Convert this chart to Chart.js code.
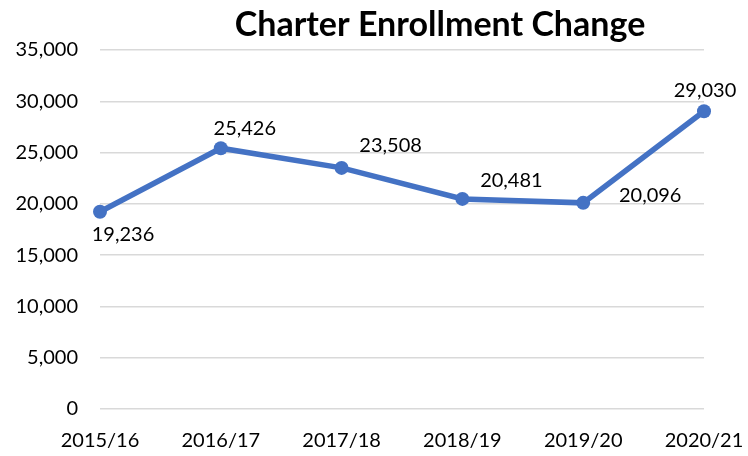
<!DOCTYPE html>
<html>
<head>
<meta charset="utf-8">
<script src="https://cdn.jsdelivr.net/npm/chart.js@4"></script>
<style>
  html, body { margin: 0; padding: 0; background: #fff; }
  #wrap { width: 748px; height: 456px; }
</style>
</head>
<body>
<div id="wrap"><canvas id="enrollChart" width="748" height="456"></canvas></div>
<script>
var years = ['2015/16', '2016/17', '2017/18', '2018/19', '2019/20', '2020/21'];
var enrollment = [19236, 25426, 23508, 20481, 20096, 29030];
var yTicks = [0, 5000, 10000, 15000, 20000, 25000, 30000, 35000];

// where each value label sits relative to its point
var labelOffsets = [[23, 23], [24, -20], [49, -22], [49, -18], [67, -7], [1, -21]];

var fmt = function(v){ return Number(v).toLocaleString('en-US'); };

var titlePlugin = {
	id: 'customTitle',
	afterDraw: function(chart){
		var ctx = chart.ctx;
		ctx.save();
		ctx.font = 'bold 34px Lato';
		ctx.fillStyle = '#000';
		ctx.textAlign = 'center';
		ctx.textBaseline = 'middle';
		ctx.fillText('Charter Enrollment Change', 440, 25);
		ctx.restore();
	}
};

var valueLabels = {
	id: 'valueLabels',
	afterDatasetsDraw: function(chart){
		var ctx = chart.ctx;
		var meta = chart.getDatasetMeta(0);
		ctx.save();
		ctx.font = '20px Lato';
		ctx.fillStyle = '#000';
		ctx.textAlign = 'center';
		ctx.textBaseline = 'middle';
		meta.data.forEach(function(pt, i){
			var off = labelOffsets[i];
			ctx.fillText(fmt(enrollment[i]), pt.x + off[0], pt.y + off[1]);
		});
		ctx.restore();
	}
};

new Chart(document.getElementById('enrollChart').getContext('2d'), {
	type: 'line',
	data: {
		labels: years,
		datasets: [{
			data: enrollment,
			borderColor: '#4472C4',
			backgroundColor: '#4472C4',
			borderWidth: 5.5,
			pointRadius: 7,
			pointHoverRadius: 7,
			pointBorderWidth: 0,
			tension: 0,
			fill: false
		}]
	},
	options: {
		responsive: false,
		animation: false,
		layout: { padding: { top: 50, right: 44, left: 0, bottom: 0 } },
		plugins: {
			legend: { display: false },
			title: { display: false },
			tooltip: { enabled: false }
		},
		scales: {
			x: {
				offset: false,
				grid: { display: false },
				border: { display: false },
				ticks: { color: '#000', font: { family: 'Lato', size: 20 }, padding: 12, maxRotation: 0 },
				afterFit: function(scale){
					scale.height = 47;
					scale.paddingLeft = 0;
					scale.paddingRight = 0;
				}
			},
			y: {
				min: 0,
				max: 35000,
				afterBuildTicks: function(scale){
					scale.ticks = yTicks.map(function(v){ return { value: v }; });
				},
				grid: { color: '#d9d9d9', lineWidth: 1.5, drawTicks: false },
				border: { display: false },
				ticks: {
					color: '#000',
					font: { family: 'Lato', size: 20 },
					padding: 22,
					callback: function(v){ return fmt(v); }
				},
				afterFit: function(scale){ scale.width = 100; }
			}
		}
	},
	plugins: [titlePlugin, valueLabels]
});
</script>
</body>
</html>
